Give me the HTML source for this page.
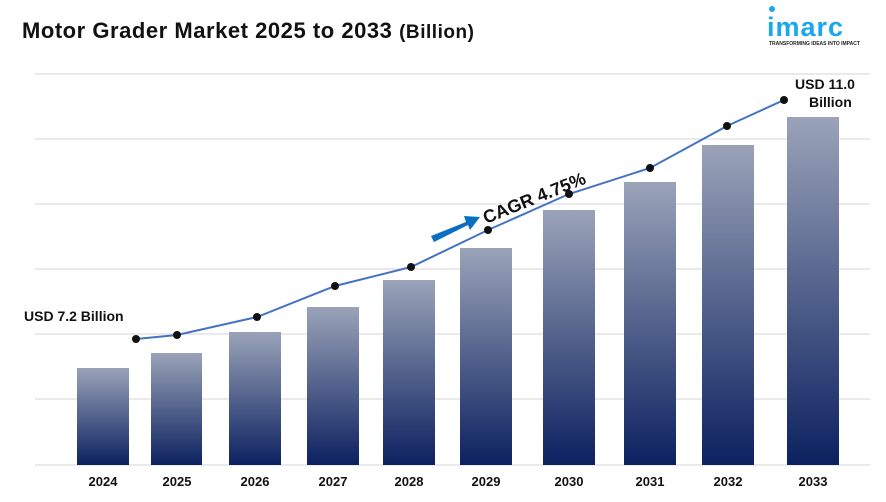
<!DOCTYPE html>
<html><head><meta charset="utf-8"><style>
body{margin:0;background:#fff;font-family:"Liberation Sans",sans-serif}
</style></head><body>
<svg width="886" height="497" xmlns="http://www.w3.org/2000/svg" font-family="Liberation Sans, sans-serif">
<defs><linearGradient id="g" x1="0" y1="0" x2="0" y2="1"><stop offset="0" stop-color="#9aa3b8"/><stop offset="1" stop-color="#0c2160"/></linearGradient></defs>
<text x="22" y="38" font-size="22" font-weight="bold" fill="#111" textLength="452">Motor Grader Market 2025 to 2033 <tspan font-size="19">(Billion)</tspan></text>
<circle cx="772" cy="9" r="3" fill="#1aa7ec"/>
<text x="767" y="36" font-size="27" fill="#1aa7ec" font-weight="bold" letter-spacing="1">imarc</text>
<text x="769" y="45" font-size="5" font-weight="bold" fill="#222">TRANSFORMING IDEAS INTO IMPACT</text>
<g stroke="#d6d6d6" stroke-width="1">
<line x1="35" y1="74" x2="870" y2="74"/><line x1="35" y1="139" x2="870" y2="139"/><line x1="35" y1="204" x2="870" y2="204"/><line x1="35" y1="269" x2="870" y2="269"/><line x1="35" y1="334" x2="870" y2="334"/><line x1="35" y1="399" x2="870" y2="399"/><line x1="35" y1="465" x2="870" y2="465"/>
</g>
<g fill="url(#g)">
<rect x="77" y="368" width="52" height="97"/><rect x="151" y="353" width="51" height="112"/><rect x="229" y="332" width="52" height="133"/><rect x="307" y="307" width="52" height="158"/><rect x="383" y="280" width="52" height="185"/><rect x="460" y="248" width="52" height="217"/><rect x="543" y="210" width="52" height="255"/><rect x="624" y="182" width="52" height="283"/><rect x="702" y="145" width="52" height="320"/><rect x="787" y="117" width="52" height="348"/>
</g>
<polyline fill="none" stroke="#4472c4" stroke-width="2" points="136,339 177,335 257,317 335,286 411,267 488,230 569,194 650,168 727,126 784,100"/>
<g fill="#111"><circle cx="136" cy="339" r="4"/><circle cx="177" cy="335" r="4"/><circle cx="257" cy="317" r="4"/><circle cx="335" cy="286" r="4"/><circle cx="411" cy="267" r="4"/><circle cx="488" cy="230" r="4"/><circle cx="569" cy="194" r="4"/><circle cx="650" cy="168" r="4"/><circle cx="727" cy="126" r="4"/><circle cx="784" cy="100" r="4"/></g>
<polygon points="431,236 466,222 464,216 480,217 470,230 468,225 434,242" fill="#0a6fc2"/>
<text x="0" y="0" font-size="18" font-weight="bold" fill="#111" transform="translate(486,224) rotate(-22)">CAGR 4.75%</text>
<text x="24" y="321" font-size="14" font-weight="bold" fill="#111">USD 7.2 Billion</text>
<text x="795" y="89" font-size="14" font-weight="bold" fill="#111">USD 11.0</text>
<text x="809" y="107" font-size="14" font-weight="bold" fill="#111">Billion</text>
<g font-size="13" font-weight="bold" fill="#111" text-anchor="middle">
<text x="103" y="486">2024</text><text x="177" y="486">2025</text><text x="255" y="486">2026</text><text x="333" y="486">2027</text><text x="409" y="486">2028</text><text x="486" y="486">2029</text><text x="569" y="486">2030</text><text x="650" y="486">2031</text><text x="728" y="486">2032</text><text x="813" y="486">2033</text>
</g>
</svg>
</body></html>
